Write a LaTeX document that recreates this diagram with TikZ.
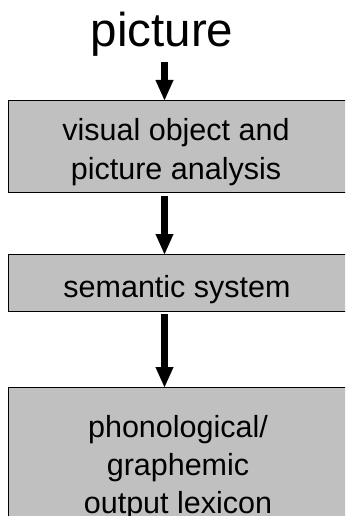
\documentclass[tikz,border=0pt]{standalone}
\usepackage{fontspec}
\setmainfont{Liberation Sans}
\usetikzlibrary{arrows.meta}
\definecolor{boxgray}{RGB}{192,192,192}
\begin{document}
\begin{tikzpicture}[x=1pt,y=-1pt,
  box/.style={rectangle, draw=black, line width=1.3pt, fill=boxgray, minimum width=340pt, inner sep=0pt, anchor=north west},
  lbl/.style={font=\fontsize{30.5}{36}\selectfont, inner sep=0pt, anchor=base},
  arr/.style={line width=6.5pt, -{Triangle[width=18pt,length=20pt,line width=0.01pt]}},
]
\useasboundingbox (0,0) rectangle (345,516);
\clip (0,0) rectangle (345,516);
\fill[white] (0,0) rectangle (345,516);

\node[font=\fontsize{47.5}{52}\selectfont, inner sep=0pt, anchor=base] (pic) at (162,47) {picture};

\node[box, minimum height=92pt] (vis) at (8,100) {};
\node[lbl] (vis1) at (176,140) {visual object and};
\node[lbl] (vis2) at (176,179) {picture analysis};

\node[box, minimum height=57pt] (sem) at (8,254) {};
\node[lbl] (sem1) at (177,297) {semantic system};

\node[box, minimum height=170pt] (out) at (8,387) {};
\node[lbl] (out1) at (178,437) {phonological/};
\node[lbl] (out2) at (178,475) {graphemic};
\node[lbl] (out3) at (178,513) {output lexicon};

\coordinate (ax) at (164.5,0);
\draw[arr, shorten <=5pt] (ax |- pic.south) -- (ax |- vis.north);
\draw[arr, shorten <=2.5pt] (ax |- vis.south) -- (ax |- sem.north);
\draw[arr, shorten <=1.5pt] (ax |- sem.south) -- (ax |- out.north);
\end{tikzpicture}
\end{document}
